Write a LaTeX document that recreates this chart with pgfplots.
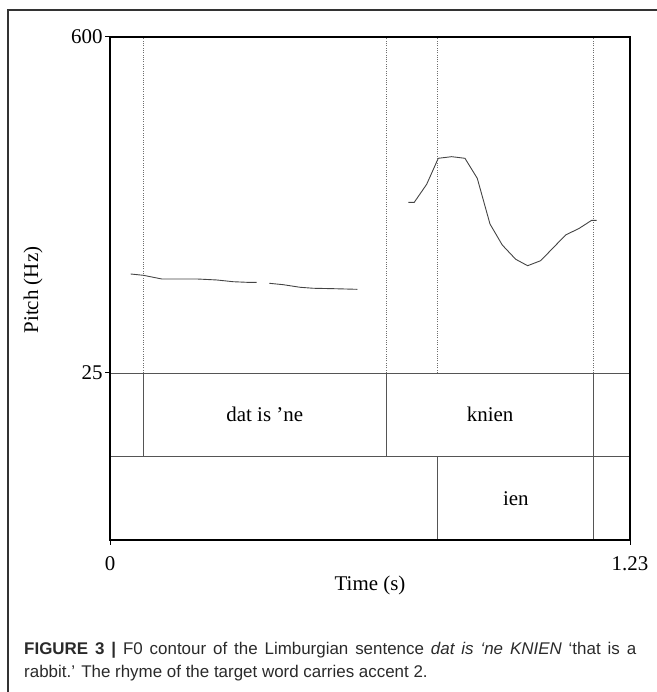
\documentclass[border=0pt]{standalone}
\usepackage{fontspec}
\setmainfont{Liberation Serif}
\newfontfamily\capfont{Liberation Sans}
\usepackage{pgfplots}
\pgfplotsset{compat=1.18}

\definecolor{curve}{HTML}{444444}
\definecolor{tier}{HTML}{555555}
\definecolor{captext}{HTML}{2A2A2A}

\newcommand{\chartfont}{\fontsize{21}{24}\selectfont}

\pgfplotsset{
  praat/.style={
    scale only axis, width=520bp, anchor=south west,
    xmin=0, xmax=1.23,
    axis line style={draw=none},
    tick align=outside, major tick length=5bp,
    tick style={black, line width=1bp},
    tick label style={font=\chartfont},
    label style={font=\chartfont},
  },
}

\begin{document}
\begin{tikzpicture}
\useasboundingbox (0,0) rectangle (657bp,692bp);

% text grid: lower tier axis
\begin{axis}[praat, at={(110bp,152bp)}, height=167bp,
  ymin=0, ymax=2,
  xtick={0,1.23}, xticklabels={0,1.23}, xtick pos=bottom,
  xticklabel style={yshift=-8bp},
  ytick=\empty,
  xlabel={Time (s)},
  xlabel style={yshift=2bp},
]
% tier separators
\addplot[tier, line width=0.9bp] coordinates {(0,1) (1.23,1)};
\addplot[tier, line width=0.9bp] coordinates {(0,2) (1.23,2)};
% tier 1 boundaries
\addplot[tier, line width=0.9bp, unbounded coords=jump] coordinates {
  (0.0788,1) (0.0788,2) (nan,nan)
  (0.6536,1) (0.6536,2) (nan,nan)
  (1.1447,1) (1.1447,2)};
% tier 2 boundaries
\addplot[tier, line width=0.9bp, unbounded coords=jump] coordinates {
  (0.775,0) (0.775,1) (nan,nan)
  (1.1447,0) (1.1447,1)};
\node[font=\chartfont] at (axis cs:0.3662,1.5) {dat is ’ne};
\node[font=\chartfont] at (axis cs:0.8992,1.5) {knien};
\node[font=\chartfont] at (axis cs:0.9599,0.5) {ien};
\end{axis}

% pitch axis
\begin{axis}[praat, at={(110bp,319bp)}, height=336bp,
  ymin=25, ymax=600,
  xtick=\empty,
  ytick={25,600}, yticklabels={25,600}, ytick pos=left,
  yticklabel style={xshift=1bp},
]
% interval boundaries
\addplot[tier!85, line width=0.9bp, dash pattern=on 1bp off 1.3bp, unbounded coords=jump] coordinates {
  (0.0788,25) (0.0788,600) (nan,nan)
  (0.6536,25) (0.6536,600) (nan,nan)
  (0.775,25) (0.775,600) (nan,nan)
  (1.1447,25) (1.1447,600)};
% F0 contour
\addplot[curve, line width=0.9bp] coordinates {
  (0.049,194.4) (0.0788,192.2) (0.1223,185.9) (0.1578,185.9) (0.2051,185.9)
  (0.2524,184.2) (0.2916,181.2) (0.3233,180.2) (0.347,180.2)};
\addplot[curve, line width=0.9bp] coordinates {
  (0.3768,178.5) (0.4099,176.1) (0.4494,171.7) (0.4809,170.0) (0.5281,169.3)
  (0.5849,168.2)};
\addplot[curve, line width=0.9bp] coordinates {
  (0.7055,317.1) (0.7197,317.1) (0.749,347.9) (0.7765,392.4) (0.8082,395.2)
  (0.8396,392.4) (0.8687,358.2) (0.8988,280.0) (0.9279,244.0) (0.9596,219.6)
  (0.9879,208.6) (1.0187,217.2) (1.0485,239.4) (1.0778,261.2) (1.11,272.6)
  (1.1393,286.3) (1.1511,286.3)};
\end{axis}

% plot frame
\draw[black, line width=1.7bp] (110bp,152bp) rectangle (630bp,655bp);
\node[font=\chartfont, rotate=90] at (33bp,402bp) {Pitch (Hz)};

% figure frame
\draw[black!80, line width=1.2bp] (8bp,-5bp) -- (8bp,682bp) -- (670bp,682bp);

% caption
\node[anchor=base west, inner sep=0, text=captext, text width=612bp, align=justify,
  font={\capfont\fontsize{17}{23}\selectfont}] at (24bp,37.5bp)
  {\textbf{FIGURE 3 |} F0 contour of the Limburgian sentence \textit{dat is ‘ne KNIEN} ‘that is a\linebreak
   rabbit.’ The rhyme of the target word carries accent 2.};
\end{tikzpicture}
\end{document}
